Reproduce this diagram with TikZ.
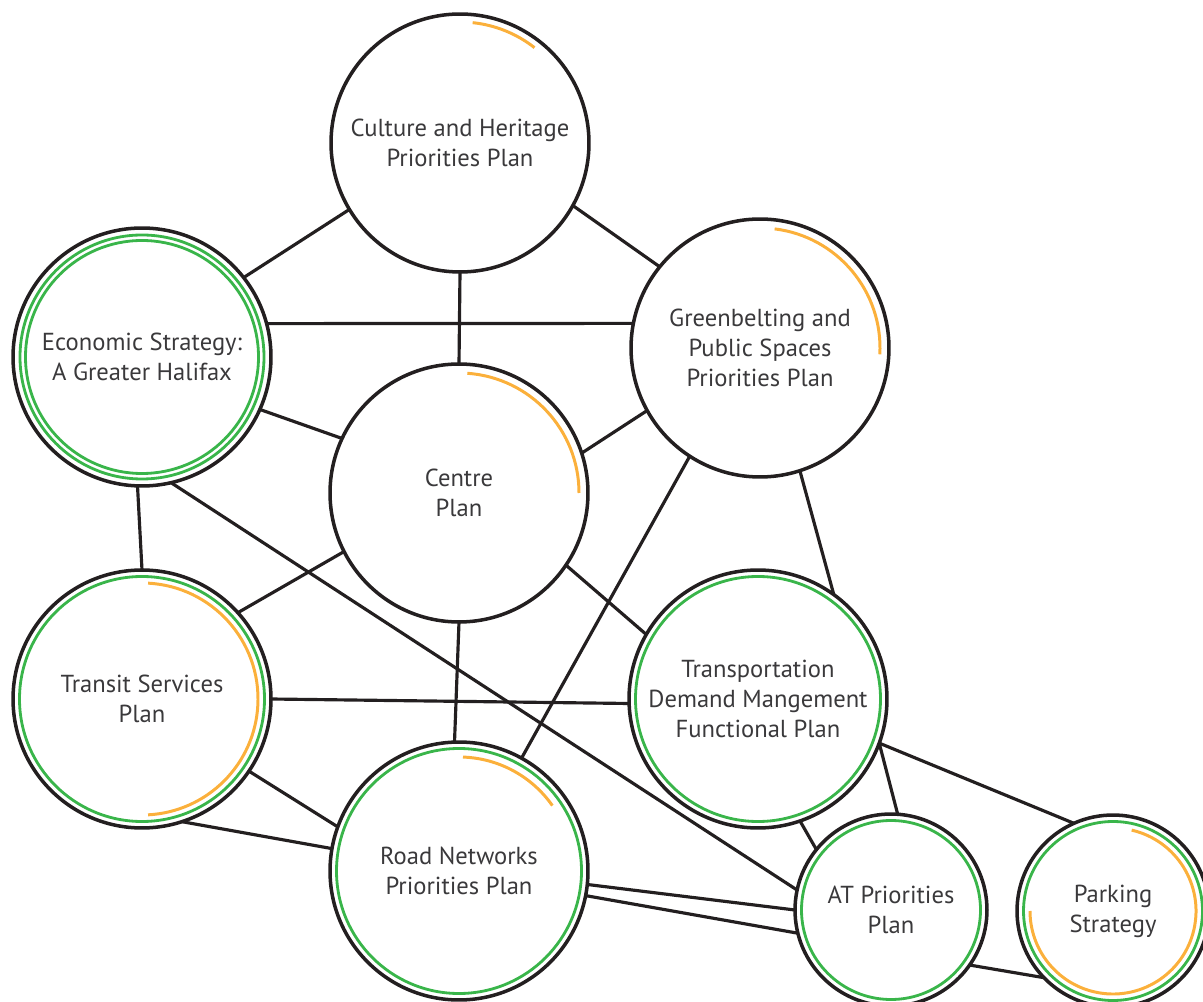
\documentclass[tikz,border=0pt]{standalone}
\usepackage{fontspec}
\setmainfont{PT Sans}

\definecolor{linegray}{HTML}{231F20}
\definecolor{plangreen}{HTML}{39B54A}
\definecolor{planorange}{HTML}{FBB03B}
\definecolor{textgray}{HTML}{3A393B}

\begin{document}
\begin{tikzpicture}[
    x=0.02cm, y=0.02cm,
    plan/.style={circle, draw=linegray, line width=2pt, minimum size=5.16cm, inner sep=0pt, outer sep=0pt, align=center, text=textgray, font=\fontsize{14}{17}\selectfont},
    smallplan/.style={plan, minimum size=3.84cm},
    link/.style={draw=linegray, line width=1.8pt},
    ring/.style={draw=plangreen, line width=1.6pt},
    progress/.style={draw=planorange, line width=1.7pt}
]
    \useasboundingbox (0,0) rectangle (1203,1001);

    % plans
    \node[plan] (culture) at (460,858) {Culture and Heritage\\Priorities Plan};
    \node[plan] (econ) at (142,644) {Economic Strategy:\\A Greater Halifax};
    \node[plan] (greenb) at (760,653) {Greenbelting and\\Public Spaces\\Priorities Plan};
    \node[plan] (centre) at (459,508) {Centre\\Plan};
    \node[plan] (transit) at (142,302) {Transit Services\\Plan};
    \node[plan] (tdm) at (758,302) {Transportation\\Demand Mangement\\Functional Plan};
    \node[plan] (road) at (459,130) {Road Networks\\Priorities Plan};
    \node[smallplan] (atp) at (891,91) {AT Priorities\\Plan};
    \node[smallplan] (parking) at (1113,90) {Parking\\Strategy};

    % green rings
    \draw[ring] (econ.center) circle[radius=122];
    \draw[ring] (econ.center) circle[radius=116.5];
    \draw[ring] (transit.center) circle[radius=122.5];
    \draw[ring] (tdm.center) circle[radius=122.5];
    \draw[ring] (road.center) circle[radius=122.5];
    \draw[ring] (atp.center) circle[radius=89.5];
    \draw[ring] (parking.center) circle[radius=89.5];

    % orange arcs
    \draw[progress] (culture.center) ++(84:121) arc[start angle=84, end angle=52, radius=121];
    \draw[progress] (greenb.center) ++(83:120) arc[start angle=83, end angle=-3, radius=120];
    \draw[progress] (centre.center) ++(86:120) arc[start angle=86, end angle=0, radius=120];
    \draw[progress] (transit.center) ++(87:116) arc[start angle=87, end angle=-87, radius=116];
    \draw[progress] (road.center) ++(88:114) arc[start angle=88, end angle=35, radius=114];
    \draw[progress] (parking.center) ++(77:83) arc[start angle=77, end angle=-180, radius=83];

    % links
    \draw[link] (culture.211) -- (econ.38);
    \draw[link] (culture.-29) -- (greenb.141);
    \draw[link] (culture.-90) -- (centre.90);
    \draw[link] (econ.15) -- (greenb.169);
    \draw[link] (econ.-24) -- (centre.155);
    \draw[link] (econ.-92) -- (transit.90);
    \draw[link] (econ.-77) -- (atp.168);
    \draw[link] (greenb.209) -- (centre.18);
    \draw[link] (greenb.237) -- (road.61);
    \draw[link] (greenb.-72) -- (tdm.54);
    \draw[link] (centre.207) -- (transit.42);
    \draw[link] (centre.-90) -- (road.92);
    \draw[link] (centre.-34) -- (tdm.150);
    \draw[link] (transit.0) -- (tdm.182);
    \draw[link] (transit.-34) -- (road.160);
    \draw[link] (transit.-72) -- (road.170);
    \draw[link] (road.-6) -- (atp.180);
    \draw[link] (road.-11) -- (atp.194);
    \draw[link] (tdm.-71) -- (atp.141);
    \draw[link] (tdm.-20) -- (atp.86);
    \draw[link] (tdm.-20) -- (parking.114);
    \draw[link] (atp.-35) -- (parking.224);
\end{tikzpicture}
\end{document}
